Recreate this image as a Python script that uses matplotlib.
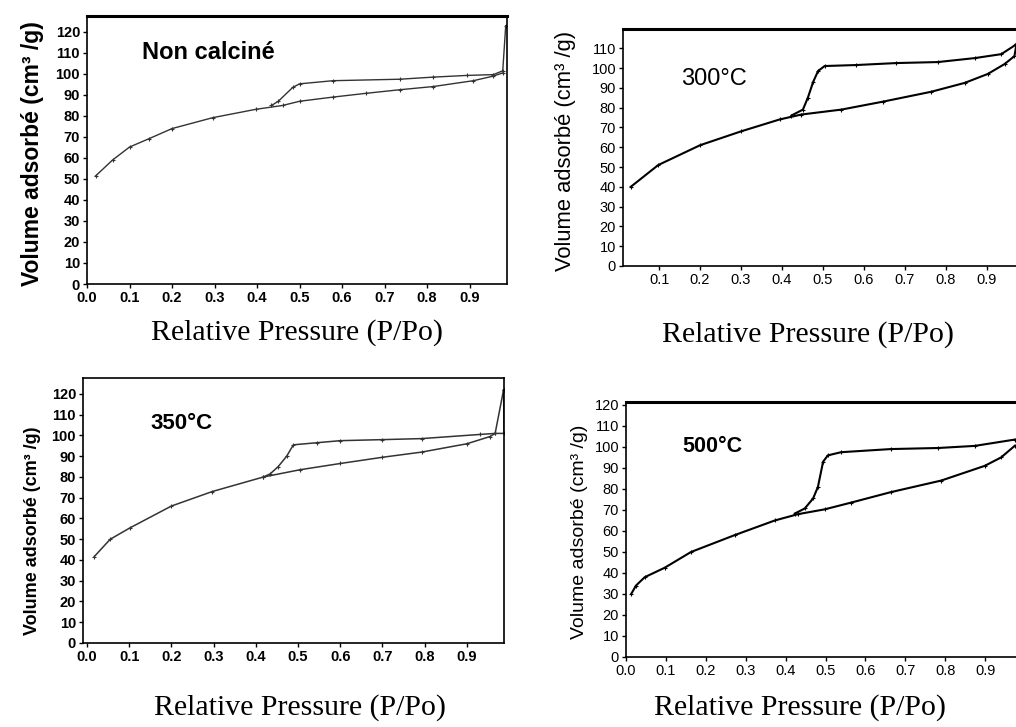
import matplotlib as mpl
mpl.use('Agg')
import matplotlib.pyplot as plt
from matplotlib import font_manager

W, H = 1016, 727

# use a narrow sans if there is one, the scan looks condensed
names = set(f.name for f in font_manager.fontManager.ttflist)
SANS = 'Liberation Sans Narrow' if 'Liberation Sans Narrow' in names else 'Liberation Sans'
SERIF = 'Liberation Serif'

# Non calciné ------------------------------------------------------------------
nc_ads_x = [0.02, 0.06, 0.10, 0.146, 0.20, 0.296, 0.398, 0.46, 0.50, 0.579, 0.657, 0.736, 0.814, 0.909, 0.956, 0.978]
nc_ads_y = [51.4, 59.0, 65.2, 69.2, 74.0, 79.2, 83.2, 85.0, 87.0, 89.0, 90.8, 92.5, 94.0, 96.8, 99.0, 100.5]
nc_des_x = [0.985, 0.978, 0.956, 0.893, 0.814, 0.736, 0.579, 0.50, 0.484, 0.45, 0.434]
nc_des_y = [123.0, 101.5, 99.7, 99.3, 98.5, 97.5, 96.8, 95.3, 93.6, 87.0, 85.0]

# 300°C ------------------------------------------------------------------------
t300_ads_x = [0.031, 0.098, 0.20, 0.30, 0.394, 0.447, 0.545, 0.646, 0.764, 0.846, 0.902, 0.943, 0.967, 0.972]
t300_ads_y = [40.0, 51.0, 61.0, 68.0, 74.0, 76.5, 79.0, 83.0, 88.0, 92.5, 97.0, 102.0, 106.0, 112.0]
t300_des_x = [0.972, 0.935, 0.87, 0.78, 0.679, 0.581, 0.504, 0.488, 0.476, 0.463, 0.451, 0.423]
t300_des_y = [112.0, 107.0, 105.0, 103.0, 102.5, 101.5, 101.0, 98.5, 93.0, 85.0, 79.0, 76.0]

# 350°C ------------------------------------------------------------------------
t350_ads_x = [0.017, 0.055, 0.102, 0.20, 0.297, 0.418, 0.505, 0.60, 0.70, 0.793, 0.90, 0.955, 0.967, 0.987]
t350_ads_y = [41.6, 50.0, 55.5, 66.0, 73.0, 80.0, 83.5, 86.5, 89.5, 92.0, 96.0, 99.5, 101.0, 122.0]
t350_des_x = [0.987, 0.988, 0.967, 0.931, 0.793, 0.70, 0.60, 0.544, 0.489, 0.473, 0.453, 0.434, 0.418]
t350_des_y = [122.0, 101.0, 101.0, 100.5, 98.5, 98.0, 97.5, 96.5, 95.5, 90.0, 85.0, 81.5, 80.0]

# 500°C ------------------------------------------------------------------------
t500_ads_x = [0.013, 0.025, 0.047, 0.097, 0.163, 0.272, 0.373, 0.431, 0.498, 0.564, 0.664, 0.79, 0.899, 0.94, 0.974]
t500_ads_y = [30.0, 34.0, 38.0, 42.5, 50.0, 58.0, 65.0, 68.0, 70.3, 73.5, 78.5, 84.0, 91.0, 95.0, 100.5]
t500_des_x = [0.974, 0.874, 0.782, 0.664, 0.539, 0.506, 0.494, 0.481, 0.469, 0.448, 0.423]
t500_des_y = [103.5, 100.5, 99.5, 99.0, 97.5, 96.0, 93.0, 81.0, 75.5, 70.7, 68.3]

xticks_a = [0.0, 0.1, 0.2, 0.3, 0.4, 0.5, 0.6, 0.7, 0.8, 0.9]
xticks_b = [0.1, 0.2, 0.3, 0.4, 0.5, 0.6, 0.7, 0.8, 0.9]
yticks_120 = list(range(0, 121, 10))
yticks_110 = list(range(0, 111, 10))

ylab = 'Volume adsorbé (cm³ /g)'
xlab = 'Relative Pressure (P/Po)'

fig = plt.figure(figsize=(W / 100, H / 100), dpi=100)


def add_panel(box, xlim, ylim):
	# box in pixels: left, top, right, bottom
	l, t, r, b = box
	return fig.add_axes([l / W, 1 - b / H, (r - l) / W, (b - t) / H], xlim=xlim, ylim=ylim)


def style(ax, xticks, yticks, weight, size, top_lw, xfmt='%.1f'):
	ax.set_xticks(xticks)
	ax.set_xticklabels([xfmt % v for v in xticks])
	ax.set_yticks(yticks)
	ax.tick_params(direction='out', length=3, width=1, pad=2, labelsize=size)
	for lab in ax.get_xticklabels() + ax.get_yticklabels():
		lab.set_family(SANS)
		lab.set_fontweight(weight)
	for s in ax.spines.values():
		s.set_linewidth(1.2)
	ax.spines['top'].set_linewidth(top_lw)


def curve(ax, xs, ys, lw, color):
	ax.plot(xs, ys, color=color, lw=lw, marker='+', ms=3.5, mew=0.8)


panels = [
	# box, xlim, ylim, ads, des, xticks, yticks, title, title pos, title weight/size, tick weight, line, top spine
	((87, 16, 507, 284), (0.0, 0.988), (0, 127.6), (nc_ads_x, nc_ads_y), (nc_des_x, nc_des_y),
	 xticks_a, yticks_120, 'Non calciné', (0.288, 0.862), 'bold', 17, 'bold', 1.0, '#333333', 2.2),
	((623, 29, 1030, 266), (0.012, 1.005), (0, 119.7), (t300_ads_x, t300_ads_y), (t300_des_x, t300_des_y),
	 xticks_b, yticks_110, '300°C', (0.224, 0.789), 'normal', 17, 'normal', 1.5, 'black', 2.2),
	((83, 378, 504, 643), (-0.0095, 0.988), (0, 127.7), (t350_ads_x, t350_ads_y), (t350_des_x, t350_des_y),
	 xticks_a, yticks_120, '350°C', (0.233, 0.83), 'bold', 16, 'bold', 1.1, '#333333', 1.2),
	((626, 402, 1030, 657), (0.0, 1.0125), (0, 121.4), (t500_ads_x, t500_ads_y), (t500_des_x, t500_des_y),
	 xticks_a, yticks_120, '500°C', (0.215, 0.827), 'bold', 15.5, 'normal', 1.5, 'black', 2.2),
]

for box, xl, yl, ads, des, xt, yt, title, tpos, tw, ts, tickw, lw, col, top_lw in panels:
	ax = add_panel(box, xl, yl)
	curve(ax, ads[0], ads[1], lw, col)
	curve(ax, des[0], des[1], lw, col)
	style(ax, xt, yt, tickw, 10.5, top_lw)
	ax.text(tpos[0], tpos[1], title, transform=ax.transAxes, ha='center', va='center',
		fontsize=ts, fontweight=tw, family='Liberation Sans')

# y labels, placed by pixel like the scan
for (x, y, w, fs) in [(33, 154, 'bold', 16.5), (566, 151, 'normal', 15.8), (33, 531, 'bold', 13), (580, 532, 'normal', 14)]:
	fig.text(x / W, 1 - y / H, ylab, rotation=90, ha='center', va='center',
		fontsize=fs, fontweight=w, family=SANS)

# x labels under each panel
for (x, y) in [(297, 333), (808, 335), (300, 708), (800, 708)]:
	fig.text(x / W, 1 - y / H, xlab, ha='center', va='center', fontsize=21.5, family=SERIF)

plt.savefig('out.png', dpi=100)
